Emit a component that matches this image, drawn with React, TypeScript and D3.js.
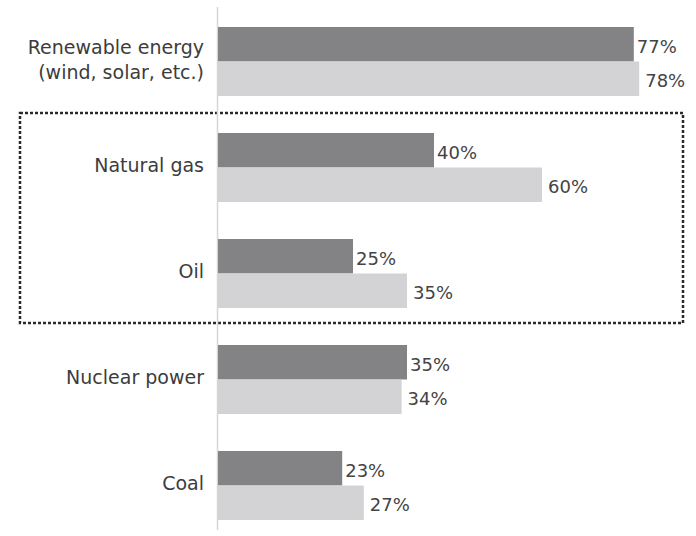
import React from "react";
import * as d3 from "d3";

const categories: string[][] = [
  ["Renewable energy", "(wind, solar, etc.)"],
  ["Natural gas"],
  ["Oil"],
  ["Nuclear power"],
  ["Coal"],
];
const seriesNames = ["dark", "light"];
const darkValues = [77, 40, 25, 35, 23];
const lightValues = [78, 60, 35, 34, 27];

const W = 696;
const H = 536;
const FONT = "'DejaVu Sans', sans-serif";

export default function App() {
  const keys = categories.map((c) => c.join(" "));
  const x = d3.scaleLinear().domain([0, 100]).range([218, 758]);
  const y = d3.scaleBand<string>().domain(keys).range([27, 520]).paddingInner(0.349).paddingOuter(0);
  const ys = d3.scaleBand<string>().domain(seriesNames).range([0, y.bandwidth()]).padding(0);
  const colors: Record<string, string> = { dark: "#838385", light: "#d3d3d5" };
  const labelGap: Record<string, number> = { dark: 3, light: 6 };
  const series: Record<string, number[]> = { dark: darkValues, light: lightValues };

  const boxTop = (y(keys[1]) as number) - 20;
  const boxBottom = (y(keys[2]) as number) + y.bandwidth() + 15;

  return (
    <svg width={W} height={H} style={{ position: "absolute", left: 0, top: 0, background: "#fff" }}>
      <rect
        x={20}
        y={boxTop}
        width={663}
        height={boxBottom - boxTop}
        fill="none"
        stroke="#2a2a2a"
        strokeWidth={2.5}
        strokeDasharray="3 2"
      />
      <line x1={217.5} x2={217.5} y1={7} y2={530} stroke="#d6d6d6" strokeWidth={1.5} />
      {keys.map((k, i) => {
        const y0 = y(k) as number;
        const cy = y0 + y.bandwidth() / 2;
        const lines = categories[i];
        const lh = 25;
        return (
          <g key={k}>
            {seriesNames.map((s) => {
              const v = series[s][i];
              const by = y0 + (ys(s) as number);
              return (
                <g key={s}>
                  <rect x={x(0)} y={by} width={x(v) - x(0)} height={ys.bandwidth()} fill={colors[s]} />
                  <text
                    x={x(v) + labelGap[s]}
                    y={by + ys.bandwidth() / 2 + 2}
                    dy="0.35em"
                    fontFamily={FONT}
                    fontSize={18}
                    fill="#444"
                  >
                    {v}%
                  </text>
                </g>
              );
            })}
            {lines.map((t, j) => (
              <text
                key={t}
                x={204}
                y={cy - ((lines.length - 1) * lh) / 2 + j * lh - 2}
                dy="0.35em"
                textAnchor="end"
                fontFamily={FONT}
                fontSize={19}
                fill="#3c3c3c"
              >
                {t}
              </text>
            ))}
          </g>
        );
      })}
    </svg>
  );
}
